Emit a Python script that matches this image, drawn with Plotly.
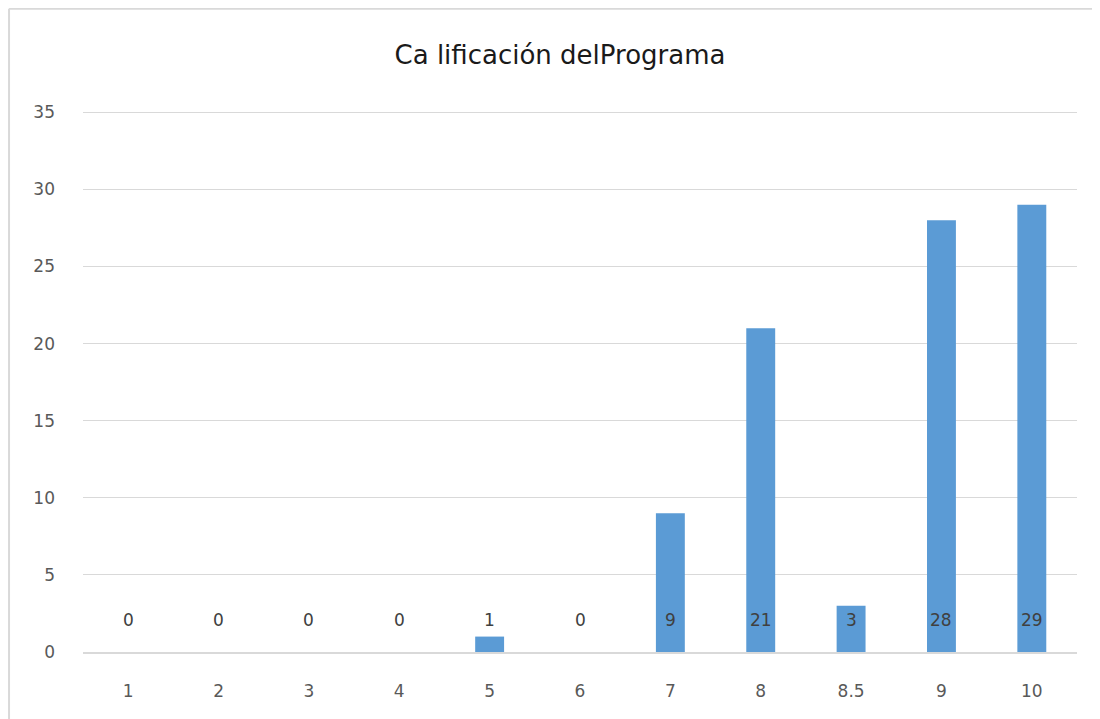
import plotly.graph_objects as go

categories = ["1", "2", "3", "4", "5", "6", "7", "8", "8.5", "9", "10"]
values = [0, 0, 0, 0, 1, 0, 9, 21, 3, 28, 29]
title_text = "Ca lificación delPrograma"

FONT = "DejaVu Sans, Liberation Sans, Arial"

fig = go.Figure()
fig.add_trace(go.Bar(
    x=categories, y=values, marker=dict(color="#5B9BD5", line=dict(width=0)),
    width=0.32, hoverinfo="x+y", showlegend=False,
))

for i, v in enumerate(values):
    fig.add_annotation(
        x=i, y=0, xref="x", yref="y", text=str(v), showarrow=False,
        yanchor="middle", yshift=32,
        font=dict(family=FONT, size=17, color="#404040"),
    )

# page has an 8px body margin; figure coordinates are offset accordingly
fig.update_layout(
    width=1092, height=711,
    margin=dict(l=75, r=23, t=102, b=67),
    paper_bgcolor="white", plot_bgcolor="white",
    title=dict(text=title_text, x=(560 - 83) / 994, xanchor="center", xref="paper",
               y=1 - 47 / 711, yref="container", yanchor="middle",
               font=dict(family=FONT, size=26, color="#1a1a1a")),
    shapes=[
        dict(type="line", xref="paper", yref="paper", x0=-0.0744, x1=1.05,
             y0=1.1868, y1=1.1868, line=dict(color="#d9d9d9", width=2)),
        dict(type="line", xref="paper", yref="paper", x0=-0.0744, x1=-0.0744,
             y0=1.1868, y1=-0.2, line=dict(color="#d9d9d9", width=2)),
    ],
)
fig.update_xaxes(
    type="category", showgrid=False, showline=True, linecolor="#d9d9d9", linewidth=2,
    ticks="", ticklabelstandoff=23,
    tickfont=dict(family=FONT, size=17, color="#595959"),
)
fig.update_yaxes(
    range=[0, 35.15], dtick=5, showgrid=True, gridcolor="#d9d9d9", gridwidth=1,
    zeroline=False, showline=False, ticks="", ticklabelstandoff=27,
    tickfont=dict(family=FONT, size=17, color="#595959"),
)

fig.write_html("out.html")
